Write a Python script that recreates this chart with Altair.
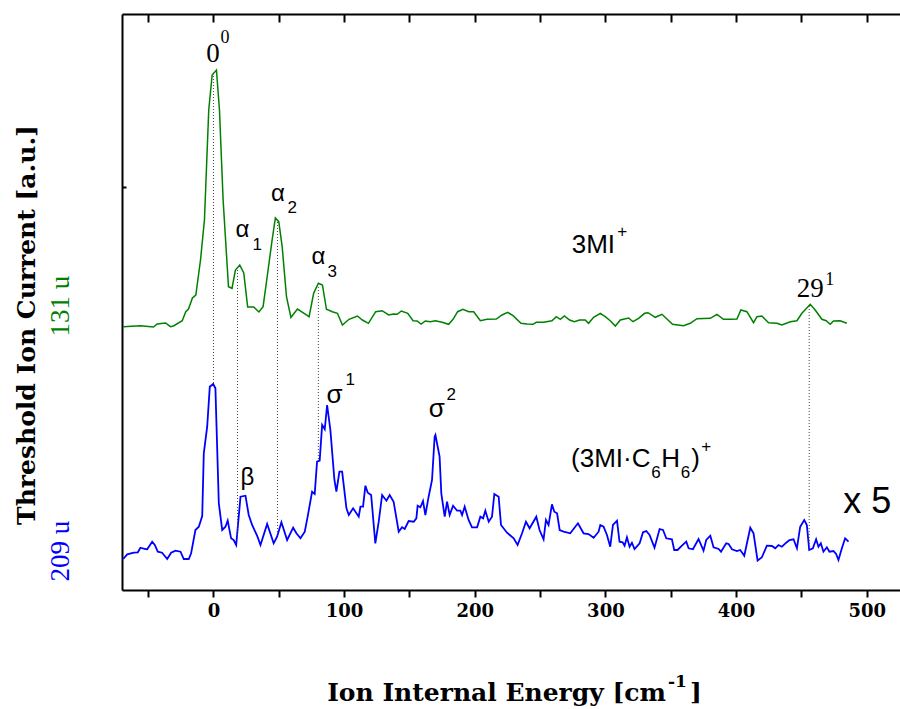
import altair as alt
import pandas as pd

# ---- 131 u (3MI+) threshold ion spectrum, drawn above the cluster trace ----
energy_131 = [-69.1, -55.9, -45.9, -43.1, -36.7, -32.9, -30.6, -23.9, -21.2, -19.1, -16.1, -13.5,
              -9.9, -6.9, -3.6, -1.0, 2.3, 4.6, 7.4, 11.5, 14.2, 16.8, 20.1, 23.2, 26.2, 30.8,
              34.8, 38.0, 41.5, 44.9, 47.4, 50.0, 52.6, 55.9, 59.3, 64.3, 69.4, 73.2, 76.7, 80.3,
              83.4, 86.5, 91.0, 94.9, 98.7, 103.8, 110.2, 114.0, 118.6, 124.2, 129.1, 134.1,
              137.9, 140.6, 143.8, 148.7, 152.8, 155.9, 158.9, 162.2, 166.0, 169.9, 175.0, 180.0,
              183.4, 186.9, 191.0, 195.3, 199.2, 204.3, 209.4, 216.5, 220.9, 225.2, 229.3, 235.4,
              240.0, 244.6, 247.1, 252.7, 259.1, 262.4, 265.5, 268.6, 272.6, 276.2, 280.3, 284.6,
              287.1, 291.0, 296.1, 299.9, 303.7, 307.6, 311.4, 317.8, 321.1, 325.4, 330.0, 332.6,
              338.2, 343.3, 351.4, 359.8, 364.9, 370.1, 380.3, 385.4, 390.4, 395.6, 400.7, 403.7,
              408.3, 413.4, 416.0, 419.8, 424.9, 431.3, 435.1, 441.5, 446.6, 450.4, 456.8, 460.6,
              465.7, 469.0, 472.1, 474.6, 479.7, 484.8]
signal_131 = [263.3, 264.3, 263.0, 266.0, 267.0, 263.3, 264.0, 269.3, 278.3, 281.0, 292.0, 295.0,
              330.0, 370.0, 480.0, 515.0, 520.0, 480.0, 390.0, 303.3, 301.7, 320.0, 325.0, 317.0,
              283.0, 283.0, 278.0, 283.3, 317.0, 350.0, 372.0, 368.3, 343.3, 293.3, 272.5, 281.0,
              276.7, 273.3, 296.7, 306.7, 305.0, 280.7, 278.3, 276.7, 265.0, 270.7, 274.0, 270.0,
              266.7, 278.3, 279.3, 275.0, 276.0, 275.7, 279.0, 276.7, 269.3, 269.0, 266.0, 269.0,
              268.3, 269.3, 267.7, 265.7, 270.7, 278.3, 280.7, 278.3, 278.3, 269.3, 270.7, 271.0,
              275.0, 277.7, 274.3, 266.7, 266.0, 265.7, 267.7, 267.7, 269.3, 273.3, 270.7, 274.0,
              270.0, 268.3, 270.0, 270.0, 266.7, 272.7, 276.7, 273.3, 269.3, 264.0, 270.0, 272.0,
              268.3, 271.7, 276.7, 277.3, 272.7, 275.7, 265.7, 264.3, 266.7, 271.3, 271.7, 275.7,
              270.7, 270.7, 271.0, 280.0, 278.3, 267.3, 273.3, 274.0, 267.3, 266.7, 265.0, 268.3,
              269.3, 276.7, 285.7, 280.0, 270.7, 269.3, 265.7, 269.0, 269.3, 266.7]

# ---- 209 u (3MI·C6H6)+ threshold ion spectrum, scaled x5 ----
energy_209 = [-69.1, -66.0, -61.0, -57.9, -55.9, -52.0, -50.7, -46.9, -44.9, -42.6, -39.3, -35.4,
              -32.4, -29.1, -25.2, -22.7, -18.9, -17.1, -13.8, -11.2, -8.6, -7.4, -4.8, -2.8, -0.2,
              1.5, 4.1, 6.7, 9.2, 10.9, 13.5, 15.5, 17.4, 20.7, 24.5, 27.0, 29.6, 33.4, 36.0, 41.1,
              46.1, 48.7, 52.0, 56.4, 61.0, 63.5, 66.6, 69.9, 72.1, 75.5, 77.5, 79.3, 81.3, 83.2,
              85.2, 87.0, 89.5, 92.6, 94.1, 96.4, 98.5, 101.8, 103.6, 106.9, 111.2, 112.5, 114.5,
              116.3, 118.1, 120.7, 123.9, 126.5, 129.1, 132.4, 134.9, 137.9, 141.8, 144.4, 146.4,
              149.4, 153.3, 155.3, 156.3, 158.4, 160.4, 162.2, 164.7, 167.3, 169.3, 169.9, 173.1,
              174.4, 177.0, 178.8, 180.8, 183.4, 186.5, 189.0, 190.3, 192.3, 195.3, 197.9, 201.8,
              204.3, 206.4, 208.1, 210.7, 213.2, 215.0, 218.3, 220.1, 224.7, 229.8, 232.8, 236.2,
              239.2, 242.0, 247.1, 249.6, 252.7, 254.5, 256.5, 259.1, 260.9, 263.0, 265.0, 268.0,
              273.1, 279.0, 283.3, 287.1, 291.0, 294.8, 296.1, 298.6, 301.2, 303.7, 305.8, 308.9,
              310.8, 313.2, 314.7, 316.5, 318.5, 320.3, 322.3, 326.2, 328.8, 331.3, 333.8, 337.6,
              341.5, 344.1, 346.6, 350.9, 352.7, 355.2, 358.6, 361.9, 363.7, 367.0, 371.3, 375.1,
              377.2, 380.3, 382.8, 386.7, 388.5, 392.5, 394.3, 396.9, 400.7, 403.2, 406.3, 410.9,
              413.4, 416.5, 419.8, 423.6, 427.5, 430.0, 432.5, 435.1, 438.4, 440.9, 444.0, 446.6,
              449.1, 452.2, 454.2, 456.0, 458.8, 461.3, 463.1, 464.9, 466.9, 469.5, 471.5, 474.6,
              476.6, 478.4, 481.0, 483.5, 486.1]
signal_209 = [31.0, 35.7, 37.3, 37.7, 42.3, 41.0, 40.7, 48.3, 45.0, 38.3, 37.3, 31.0,
              37.3, 39.3, 38.3, 31.0, 31.0, 36.7, 60.0, 63.3, 74.0, 136.7, 163.3, 203.3, 206.0,
              201.7, 86.7, 60.0, 63.3, 69.3, 51.7, 50.0, 45.0, 93.3, 94.3, 75.0, 65.0, 54.3, 45.0, 66.0,
              46.7, 53.3, 67.7, 50.0, 62.3, 56.7, 51.7, 58.3, 73.3, 98.3, 96.0, 128.3, 129.3, 165.0,
              160.7, 185.0, 160.0, 110.0, 98.3, 118.3, 118.3, 81.7, 75.0, 81.7, 73.3, 83.3, 83.3,
              104.3, 97.3, 95.0, 46.7, 68.3, 95.0, 89.3, 95.0, 88.3, 58.3, 62.7, 61.0,
              69.0, 68.3, 71.7, 84.3, 82.7, 89.0, 75.0, 93.3, 110.0, 153.3, 155.0, 133.3,
              96.7, 73.3, 88.3, 75.0, 84.3, 79.3, 79.3, 75.0, 83.3, 70.0, 62.7, 62.7,
              73.3, 71.7, 79.3, 68.3, 73.3, 96.0, 93.3, 65.0, 57.3, 51.7, 45.0, 56.7,
              68.3, 61.7, 73.3, 60.0, 50.7, 70.0, 65.0, 85.7, 78.3, 76.7, 60.0, 58.3,
              56.7, 66.7, 56.7, 56.0, 52.3, 58.3, 65.0, 63.3, 55.0, 43.3, 65.0, 69.3,
              48.3, 47.7, 44.3, 52.7, 43.3, 47.3, 41.0, 46.7, 57.7, 59.0, 55.0, 42.3,
              61.0, 60.0, 51.7, 50.7, 40.0, 40.0, 44.3, 48.3, 41.7, 40.7, 51.0, 39.3,
              50.0, 54.3, 42.7, 41.0, 38.3, 46.7, 46.0, 40.7, 39.0, 40.0, 34.3, 62.3,
              56.7, 29.3, 32.7, 44.3, 44.0, 41.7, 45.0, 43.3, 47.3, 50.0, 50.7, 41.7,
              63.3, 70.0, 65.0, 40.0, 41.7, 50.7, 43.3, 46.7, 38.3, 42.7, 38.3, 39.0,
              36.0, 30.0, 41.7, 51.7, 48.3]

# ---- dotted markers joining matching bands of the two traces ----
marker_energy = [0, 18.4, 49.0, 80.3, 456.0]
marker_top = [517, 320, 368, 303, 284]
marker_bottom = [207, 53, 57, 130, 45]

# ---- band labels ----
band_num = ["0", "29"]
band_num_x = [-0.4, 456.8]
band_num_y = [528, 293]
band_num_sup = ["0", "1"]
band_num_sup_x = [5.4, 468.2]
band_num_sup_y = [547, 305]

greek = ["α", "α", "α", "β"]
greek_x = [22.2, 49.3, 80.3, 26.0]
greek_y = [353, 389, 326, 105]
sigma = ["σ", "σ"]
sigma_x = [92.6, 171.0]
sigma_y = [187, 173]
index = ["1", "2", "3", "1", "2"]
index_x = [29.8, 56.6, 87.2, 101.0, 178.3]
index_y = [340, 377, 313, 205, 190]

species = ["3MI", "(3MI·C", "H", ")"]
species_x = [274.2, 273.7, 342.8, 365.7]
species_y = [337, 123, 123, 123]
species_small = ["+", "6", "6", "+"]
species_small_x = [309.1, 335.1, 357.7, 373.4]
species_small_y = [353, 112, 112, 138]

TICKS = list(range(-50, 501, 50))
W, H = 778, 576
xs = alt.Scale(domain=[-70, 525.5], nice=False, zero=False)
ys = alt.Scale(domain=[0, 576], nice=False, zero=False)

GREEN = "#008000"
BLUE = "#0000ff"
SERIF = "Liberation Serif"
BOLD_SERIF = "DejaVu Serif"
SANS = "Liberation Sans"

df131 = pd.DataFrame({"E": energy_131, "I": signal_131})
df209 = pd.DataFrame({"E": energy_209, "I": signal_209})
dfmark = pd.DataFrame({"E": marker_energy, "top": marker_top, "bottom": marker_bottom})

trace_131 = alt.Chart(df131).mark_line(color=GREEN, strokeWidth=1.5).encode(
    x=alt.X("E:Q", scale=xs, axis=alt.Axis(
        orient="bottom", values=TICKS, tickSize=7, tickWidth=2, tickColor="black",
        domainColor="black", domainWidth=2, grid=False, title=None, labelFlush=False,
        labelExpr="datum.value % 100 === 0 ? datum.label : ''",
        labelFont=BOLD_SERIF, labelFontWeight="bold", labelFontSize=18,
        labelColor="black", labelPadding=5)),
    y=alt.Y("I:Q", scale=ys, axis=alt.Axis(
        orient="left", ticks=False, labels=False, grid=False, title=None,
        domainColor="black", domainWidth=2)),
)

trace_209 = alt.Chart(df209).mark_line(color=BLUE, strokeWidth=1.8).encode(
    x=alt.X("E:Q", scale=xs, axis=alt.Axis(
        orient="top", ticks=False, labels=False, grid=False, title=None,
        domainColor="black", domainWidth=2)),
    y=alt.Y("I:Q", scale=ys, axis=alt.Axis(
        orient="left", offset=-4, domain=False, values=[403], tickSize=4, tickWidth=2,
        tickColor="black", labels=False, grid=False, title=None)),
)

markers = alt.Chart(dfmark).mark_rule(color="#444444", strokeWidth=1, strokeDash=[1, 2]).encode(
    x=alt.X("E:Q", scale=xs, axis=alt.Axis(
        orient="top", offset=-8, domain=False, values=TICKS, tickSize=8, tickWidth=2,
        tickColor="black", labels=False, grid=False, title=None)),
    y=alt.Y("top:Q", scale=ys, axis=None),
    y2="bottom:Q",
)


def labels(texts, xv, yv, font, size, align, color="black", weight="normal"):
    df = pd.DataFrame({"E": xv, "I": yv, "t": texts})
    return alt.Chart(df).mark_text(
        font=font, fontSize=size, align=align, baseline="alphabetic",
        color=color, fontWeight=weight,
    ).encode(
        x=alt.X("E:Q", scale=xs, axis=None),
        y=alt.Y("I:Q", scale=ys, axis=None),
        text="t:N",
    )


def fixed_text(text, px, py, font, size, align="center", angle=0, color="black",
               weight="normal", baseline="alphabetic"):
    return alt.Chart(pd.DataFrame({"t": [text]})).mark_text(
        font=font, fontSize=size, align=align, baseline=baseline, angle=angle,
        color=color, fontWeight=weight,
    ).encode(x=alt.value(px), y=alt.value(py), text="t:N")


layers = [
    trace_131, trace_209, markers,
    labels(band_num, band_num_x, band_num_y, SERIF, 27, "center"),
    labels(band_num_sup, band_num_sup_x, band_num_sup_y, SERIF, 18, "left"),
    labels(greek, greek_x, greek_y, SANS, 24, "center"),
    labels(sigma, sigma_x, sigma_y, SANS, 26, "center"),
    labels(index, index_x, index_y, SANS, 17, "left"),
    labels(species, species_x, species_y, SANS, 26, "left"),
    labels(species_small, species_small_x, species_small_y, SANS, 17, "left"),
    labels(["x 5"], [482.0], [77], SANS, 36, "left"),
    # axis titles and trace tags
    fixed_text("Threshold Ion Current [a.u.]", -95, 311, BOLD_SERIF, 25, angle=270,
               weight="bold", baseline="middle"),
    fixed_text("131 u", -61, 292, SERIF, 27, angle=270, color=GREEN, baseline="middle"),
    fixed_text("209 u", -61, 537, SERIF, 27, angle=270, color=BLUE, baseline="middle"),
    fixed_text("Ion Internal Energy [cm", 544, 687, BOLD_SERIF, 25, align="right", weight="bold"),
    fixed_text("-1", 546, 673, BOLD_SERIF, 17, align="left", weight="bold"),
    fixed_text("]", 568, 687, BOLD_SERIF, 25, align="left", weight="bold"),
]

chart = alt.layer(*layers).resolve_axis(x="independent", y="independent").properties(
    width=W, height=H,
    autosize=alt.AutoSizeParams(type="none"),
    padding={"left": 122, "top": 14, "right": 0, "bottom": 119},
    background="white",
).configure_view(stroke=None)

chart.save("out.html", embed_options={"renderer": "svg", "actions": False})
